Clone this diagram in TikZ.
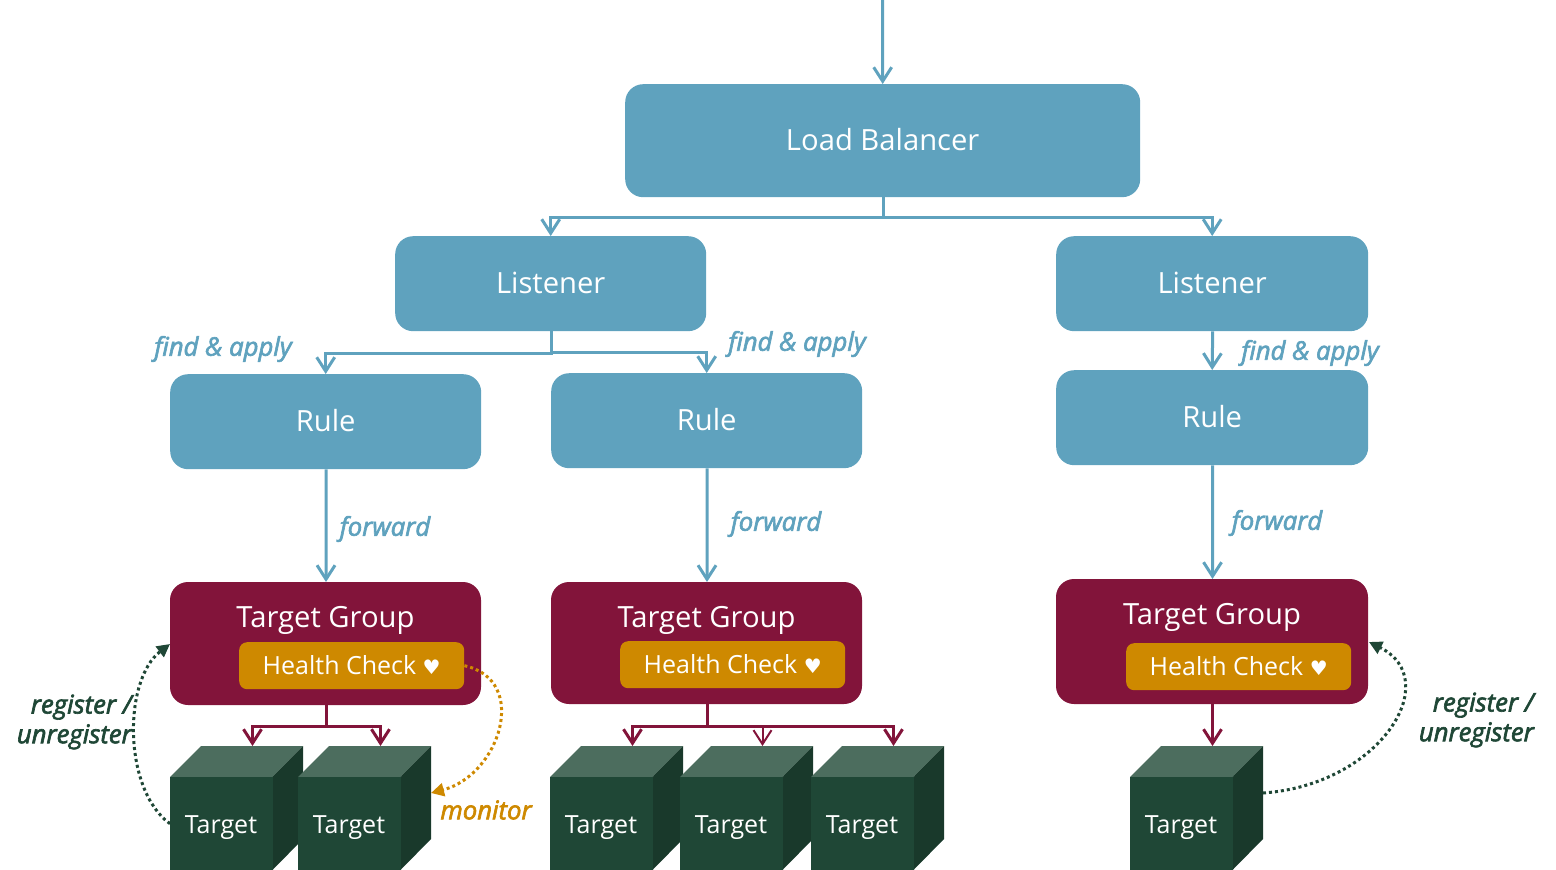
\documentclass[tikz,border=0pt]{standalone}
\usepackage{fontspec}
\setmainfont{Open Sans}
\newfontfamily\heartfont{DejaVu Sans}
\newfontfamily\labfont[ItalicFeatures={FakeBold=2.5}]{Open Sans}
\usetikzlibrary{arrows.meta}
\definecolor{bluebox}{HTML}{5FA2BE}
\definecolor{maroon}{HTML}{82143A}
\definecolor{amber}{HTML}{CE8900}
\definecolor{greenfront}{HTML}{1F4736}
\definecolor{greenside}{HTML}{19392B}
\definecolor{greentop}{HTML}{4C6D5E}
\newcommand{\fsz}[1]{\fontsize{#1}{#1}\selectfont}
\tikzset{
  x=1pt,y=-1pt,
  box/.style={fill=#1,rounded corners=18pt,text=white,inner sep=0pt,anchor=north west,align=center,font=\fsz{29.2}},
  hcbox/.style={fill=amber,rounded corners=8pt,text=white,inner sep=0pt,anchor=north west,minimum width=225pt,minimum height=47pt,font=\fsz{25}},
  frontface/.style={fill=greenfront,text=white,inner sep=0pt,anchor=north west,minimum width=102.5pt,minimum height=93pt,font=\fsz{25}},
  conn/.style={draw=#1,line width=3pt,-{Straight Barb[length=14pt,width=18pt,line width=3pt]}},
  connthin/.style={draw=#1,line width=2pt,-{Straight Barb[length=14pt,width=18pt,line width=2pt]}},
  curved/.style={draw=#1,line width=3pt,dash pattern=on 3pt off 3pt,-{Triangle[length=13pt,width=13pt,fill=#1]}},
  lab/.style={text=#1,inner sep=0pt,font=\fsz{25.7}\labfont\itshape},
}
\newcommand{\targetcube}[2]{%
  \fill[greentop] (#2,777) -- (#2+31,746) -- (#2+133,746) -- (#2+102.5,777) -- cycle;
  \fill[greenside] (#2+102.5,777) -- (#2+133,746) -- (#2+133,839) -- (#2+102.5,870) -- cycle;
  \node[frontface] (#1) at (#2,777) {\raisebox{-9.5pt}[0pt][0pt]{\hspace{-1pt}Target}};
  \coordinate (#1-top) at (#2+82.5,746);
  \coordinate (#1-right) at (#2+133,793);
}
\newcommand{\rbox}[8]{% name, colour, x0, y0, x1, y1, raise, text
  \node[box=#2,minimum width=#5pt-#3pt,minimum height=#6pt-#4pt] (#1) at (#3,#4) {\raisebox{#7pt}{#8}};
}
\newcommand{\hctext}{\raisebox{1pt}{Health Check {\heartfont\fsz{20}♥}}\hspace{4pt}}
\begin{document}
\begin{tikzpicture}
\useasboundingbox (0,0) rectangle (1556,870);
\coordinate (entry) at (882.5,0);
\rbox{lb}{bluebox}{625}{84}{1140}{197}{2}{Load Balancer}
\rbox{la}{bluebox}{395}{236}{706}{331}{1}{Listener}
\rbox{lb2}{bluebox}{1056}{236}{1368}{331}{1}{Listener}
\rbox{ra}{bluebox}{170}{374}{481}{469}{2}{Rule}
\rbox{rb}{bluebox}{551}{373}{862}{468}{2}{Rule}
\rbox{rc}{bluebox}{1056}{370}{1368}{465}{2}{Rule}
% target groups
\fill[maroon,rounded corners=18pt] (170,582) rectangle (481,705);
\fill[maroon,rounded corners=18pt] (551,582) rectangle (862,704);
\fill[maroon,rounded corners=18pt] (1056,579) rectangle (1368,704);
\coordinate (tga-w) at (170,644);
\coordinate (tgc-e) at (1369,642);
\coordinate (tga-s) at (326,705);
\coordinate (tgb-s) at (707,704);
\coordinate (tgc-s) at (1212.5,704);
\coordinate (tga-n) at (326,582);
\coordinate (tgb-n) at (707,582);
\coordinate (tgc-n) at (1212.5,579);
\node[text=white,inner sep=0pt,font=\fsz{29.2}] (tga) at (325.5,620) {Target Group};
\node[text=white,inner sep=0pt,font=\fsz{29.2}] (tgb) at (706.5,620) {Target Group};
\node[text=white,inner sep=0pt,font=\fsz{29.2}] (tgc) at (1212,617) {Target Group};
\node[hcbox] (hca) at (239,642) {\hctext};
\node[hcbox] (hcb) at (620,641) {\hctext};
\node[hcbox] (hcc) at (1126,643) {\hctext};
% targets
\targetcube{ca}{170}
\targetcube{cb}{298}
\targetcube{cc}{550}
\targetcube{cd}{680}
\targetcube{ce}{811}
\targetcube{cf}{1130}
% blue connectors
\draw[conn=bluebox] (entry) -- (lb.north);
\draw[conn=bluebox] ([xshift=.5pt]lb.south) -- ++(0,20) -| (la.north);
\draw[conn=bluebox] ([xshift=.5pt]lb.south) -- ++(0,20) -| (lb2.north);
\draw[conn=bluebox] ([xshift=.5pt]la.south) -- ++(0,22) -| (ra.north);
\draw[conn=bluebox] ([xshift=.5pt]la.south) -- ++(0,21) -| (rb.north);
\draw[conn=bluebox] ([xshift=.5pt]lb2.south) -- (rc.north);
\draw[conn=bluebox] ([xshift=.5pt]ra.south) -- (tga-n);
\draw[conn=bluebox] ([xshift=.5pt]rb.south) -- (tgb-n);
\draw[conn=bluebox] ([xshift=.5pt]rc.south) -- (tgc-n);
% maroon connectors
\draw[conn=maroon] (tga-s) -- ++(0,21) -| (ca-top);
\draw[conn=maroon] (tga-s) -- ++(0,21) -| (cb-top);
\draw[conn=maroon] (tgb-s) -- ++(0,22) -| (cc-top);
\draw[connthin=maroon] (tgb-s) -- ++(0,22) -| (cd-top);
\draw[conn=maroon] (tgb-s) -- ++(0,22) -| (ce-top);
\draw[conn=maroon] (tgc-s) -- (cf-top);
% dotted curves
\draw[curved=greenfront] (ca.west) .. controls (123,790) and (123,680) .. (tga-w);
\draw[curved=amber] (hca.east) .. controls (530,680) and (500,775) .. (cb-right);
\draw[curved=greenfront] (cf-right) .. controls (1380,785) and (1445,680) .. (tgc-e);
% labels
\node[lab=bluebox] (t1) at (223,349) {find \& apply};
\node[lab=bluebox] (t2) at (797,344) {find \& apply};
\node[lab=bluebox] (t3) at (1310,353) {find \& apply};
\node[lab=bluebox] (t4) at (385,529) {forward};
\node[lab=bluebox] (t5) at (776,524) {forward};
\node[lab=bluebox] (t6) at (1277,523) {forward};
\node[lab=greenfront,align=right,anchor=east] (t7) at (132,722) {register /\\[4pt]unregister};
\node[lab=greenfront,align=right,anchor=east] (t8) at (1534,720) {register /\\[4pt]unregister};
\node[lab=amber] (t9) at (486,810) {monitor};
\end{tikzpicture}
\end{document}
